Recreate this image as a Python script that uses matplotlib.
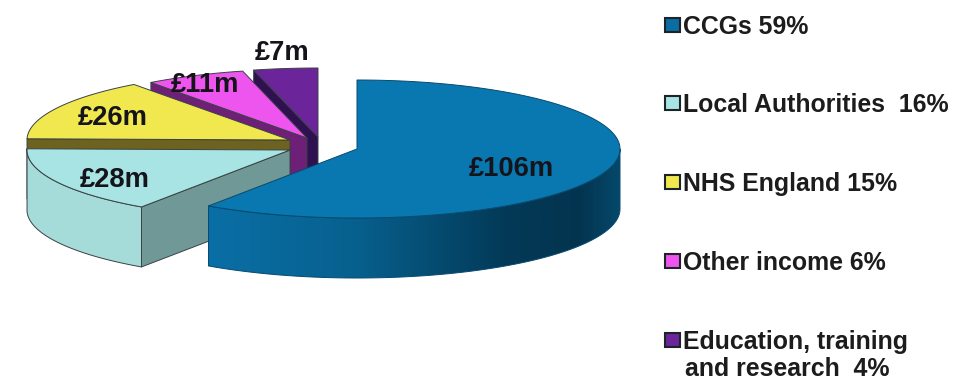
import numpy as np
import matplotlib
matplotlib.use("Agg")
import matplotlib.pyplot as plt
from matplotlib.patches import Polygon, Rectangle
from matplotlib.colors import LinearSegmentedColormap

plt.rcParams['font.family'] = ['Liberation Sans', 'DejaVu Sans']

# Income by source, in millions of pounds
sources = ["CCGs", "Local Authorities", "NHS England", "Other income", "Education, training"]
income_m = [106, 28, 26, 11, 7]
value_labels = ["£106m", "£28m", "£26m", "£11m", "£7m"]
legend_labels = [["CCGs 59%"], ["Local Authorities  16%"], ["NHS England 15%"],
                 ["Other income 6%"], ["Education, training", "and research  4%"]]

# Pie projection and per-slice styling
RX, RY, DEPTH = 263, 69, 60
APEX = [(357, 149), (290, 150), (290, 140), (307, 138), (318, 137)]
TOP = ["#0a78b0", "#a8e4e3", "#f0e84e", "#ee55ee", "#6b2499"]
RIM = ["#0a6aa0", "#a5dcda", "#8f8530", "#8a2a90", "#3a1560"]
CUT = ["#0a6aa0", "#6f9896", "#6e6220", "#6e1f78", "#2f1050"]
SWATCH = ["#0a6ea5", "#a8e4e3", "#f0e84e", "#ee55ee", "#6b2499"]
LABEL_POS = [(511, 169), (115, 180), (113, 118), (205, 85), (282, 53)]
LEGEND_Y = [25, 103, 182, 261, 340]
LINE_STEP = 27
LINE_X = [683, 685]

fig = plt.figure(figsize=(9.59, 3.80), dpi=100)
ax = fig.add_axes([0, 0, 1, 1])
ax.axis("off")


def rim_points(apex, a0, a1, n=120):
    t = np.radians(np.linspace(a0, a1, n))
    return np.column_stack([apex[0] + RX * np.cos(t), apex[1] - RY * np.sin(t)])


# Slices run clockwise from twelve o'clock
shares = np.array(income_m, dtype=float) / sum(income_m) * 360
ends = 90 - np.cumsum(shares)
starts = ends + shares
EDGE = dict(linewidth=0.7, joinstyle="round")
DROP = np.array([0, DEPTH])

# Back slices are painted first so nearer ones cover them
for i in [4, 3, 2, 1, 0]:
    ap = np.array(APEX[i], dtype=float)
    a0, a1 = starts[i], ends[i]
    z = 2 + (4 - i) * 3
    edge_col = "#064a70" if i == 0 else "#3a4244"

    # Flat cut face on the leading side of each exploded slice
    if i > 0:
        p = rim_points(ap, a0, a0, n=1)[0]
        ax.add_patch(Polygon([ap, p, p + DROP, ap + DROP], closed=True, facecolor=CUT[i],
                             edgecolor=edge_col, zorder=z, **EDGE))

    # Curved wall, only where the rim faces the viewer
    if i == 1:
        wall_top = rim_points(ap, a1, a0)
        wall = np.vstack([wall_top, wall_top[::-1] + DROP])
        ax.add_patch(Polygon(wall, closed=True, facecolor=RIM[i],
                             edgecolor=edge_col, zorder=z + 0.5, **EDGE))
    elif i == 0:
        # Rim of the large slice shades from mid blue into deep navy
        wall_top = rim_points(ap, a1, 0)
        wall = np.vstack([wall_top, wall_top[::-1] + DROP])
        shade = LinearSegmentedColormap.from_list(
            "rim", [(0, "#0a6fa6"), (0.35, "#07618f"), (0.72, "#033a58"),
                    (0.9, "#03344f"), (1, "#06486a")])
        poly = Polygon(wall, closed=True, facecolor="none",
                       edgecolor=edge_col, zorder=z + 0.6, **EDGE)
        ax.add_patch(poly)
        im = ax.imshow(np.linspace(0, 1, 256)[None, :], cmap=shade, aspect="auto",
                       extent=(wall[:, 0].min(), wall[:, 0].max(),
                               wall[:, 1].max(), wall[:, 1].min()),
                       zorder=z + 0.5)
        im.set_clip_path(poly)

    top = np.vstack([[ap], rim_points(ap, a0, a1)])
    ax.add_patch(Polygon(top, closed=True, facecolor=TOP[i],
                         edgecolor=edge_col, zorder=z + 1, **EDGE))
    ax.text(*LABEL_POS[i], value_labels[i], ha="center", va="center",
            fontsize=19.7, fontweight="bold", color="#14141a", zorder=30)

# Legend column
for lines, col, y in zip(legend_labels, SWATCH, LEGEND_Y):
    ax.add_patch(Rectangle((665, y - 7), 15, 14, facecolor=col, edgecolor="#1c2428",
                           linewidth=1.5, zorder=30))
    for k, line in enumerate(lines):
        ax.text(LINE_X[k], y + k * LINE_STEP, line, ha="left", va="center_baseline",
                fontsize=17.9, fontweight="bold", color="#1c1c1c", zorder=30)

ax.set_xlim(0, 959)
ax.set_ylim(380, 0)
fig.savefig("out.png", dpi=100, facecolor="white")
